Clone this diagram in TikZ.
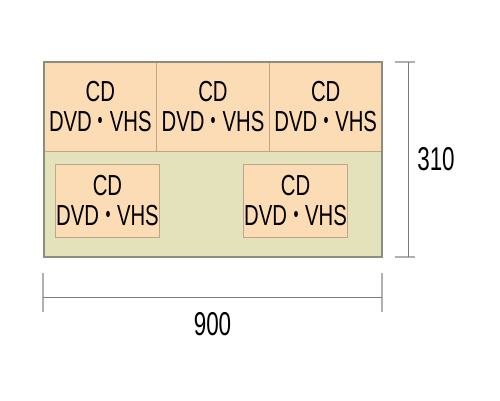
\documentclass[tikz,border=0pt]{standalone}
\usepackage{fontspec}
\setmainfont[FakeStretch=0.7]{Liberation Sans}
\newfontfamily\dotfont[FakeStretch=0.62]{Noto Sans CJK JP}
\newfontfamily\dimfont[FakeStretch=0.68]{Liberation Sans}
\usetikzlibrary{positioning}
\definecolor{peach}{HTML}{FBDCB4}
\definecolor{shelfgreen}{HTML}{E3E2BA}
\definecolor{frameline}{HTML}{8C8C80}
\definecolor{boxline}{HTML}{BCA888}
\definecolor{dimgray}{HTML}{7A7A7A}
\definecolor{tickgray}{HTML}{B0B0B0}
\newcommand{\media}{CD\\DVD{\dotfont ・}VHS}
\tikzset{
  slot/.style={draw=boxline, line width=0.8pt, fill=peach, inner sep=0pt, outer sep=0pt,
    align=center, font=\fontsize{29}{30}\selectfont},
  shelf/.style={fill=shelfgreen, inner sep=0pt, outer sep=0pt},
  frame/.style={draw=frameline, line width=1.3pt},
  dimline/.style={draw=dimgray, line width=0.9pt},
  tickline/.style={draw=tickgray, line width=1.2pt},
  dimlabel/.style={font=\dimfont\fontsize{33}{33}\selectfont, inner sep=0pt},
}
\begin{document}
\begin{tikzpicture}[x=1pt, y=-1pt]
    \useasboundingbox (0,0) rectangle (500,400);
    % lower shelf
    \node[shelf, minimum width=338pt, minimum height=106pt] (lower) at (213,204) {};
    % upper row
    \node[slot, minimum width=112.7pt, minimum height=89pt] (top1) at (100.3,106.5) {\media};
    \node[slot, minimum width=112.7pt, minimum height=89pt, right=0pt of top1] (top2) {\media};
    \node[slot, minimum width=112.7pt, minimum height=89pt, right=0pt of top2] (top3) {\media};
    % lower boxes
    \node[slot, minimum width=103.6pt, minimum height=73.3pt] (low1) at (107.5,200.6) {\media};
    \node[slot, minimum width=104.4pt, minimum height=73.3pt] (low2) at (295.5,200.6) {\media};
    \draw[frame] (top1.north west) rectangle (lower.south east);
    % dimensions
    \coordinate (w1) at (43,297);
    \coordinate (w2) at (382,297);
    \coordinate (h1) at (408,62);
    \coordinate (h2) at (408,257);
    \draw[tickline] (43,273) -- (43,312);
    \draw[tickline] (382,273) -- (382,312);
    \draw[tickline] (395,62) -- (415,62);
    \draw[tickline] (395,257) -- (415,257);
    \draw[dimline] (w1) -- (w2) node[dimlabel, midway, yshift=-27.5pt] (wlabel) {900};
    \draw[dimline] (h1) -- (h2) node[dimlabel, midway, xshift=28pt] (hlabel) {310};
\end{tikzpicture}
\end{document}
